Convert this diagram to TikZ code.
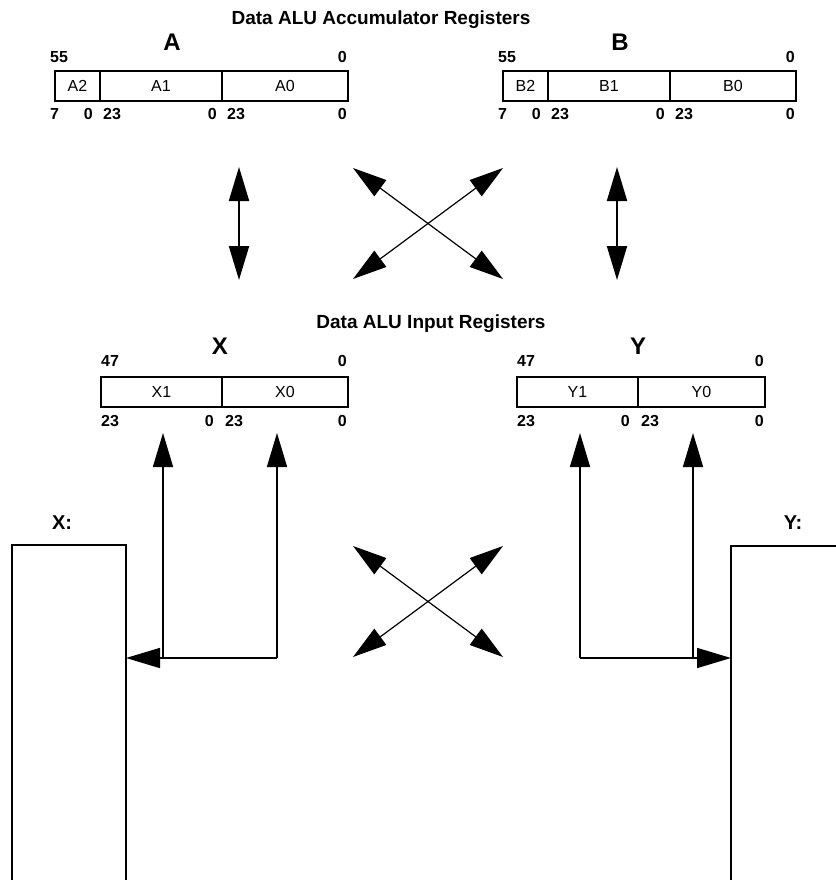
\documentclass[tikz,border=0pt]{standalone}
\usepackage{fontspec}
\setmainfont{Liberation Sans}
\usetikzlibrary{positioning, calc, arrows.meta}

\begin{document}
\begin{tikzpicture}[
        x=1pt, y=-1pt,
        % --- Style Definitions ---
        cell/.style={rectangle, draw=black, line width=1.8pt, minimum height=30pt, inner sep=0pt, outer sep=0pt, font=\fontsize{16}{16}\selectfont},
        bitnum/.style={inner sep=0pt, font=\bfseries\fontsize{16}{16}\selectfont},
        regname/.style={inner sep=0pt, font=\bfseries\fontsize{24}{24}\selectfont},
        heading/.style={inner sep=0pt, font=\bfseries\fontsize{19}{19}\selectfont},
        memname/.style={inner sep=0pt, font=\bfseries\fontsize{20}{20}\selectfont},
        membox/.style={rectangle, inner sep=0pt, outer sep=0pt, minimum height=340pt},
        memline/.style={line width=2.6pt},
        conn/.style={line width=1.6pt},
        thin_conn/.style={line width=1.2pt},
        arrow/.style={-{Triangle[length=34pt, width=20pt]}},
        dbl_arrow/.style={{Triangle[length=34pt, width=20pt]}-{Triangle[length=34pt, width=20pt]}}
    ]
        \useasboundingbox (0,0) rectangle (835,880);

        % --- Headings ---
        \node[heading] (acc_title) at (381,20) {Data ALU Accumulator Registers};
        \node[heading] (in_title)  at (431,324) {Data ALU Input Registers};

        % --- Accumulator A ---
        \node[cell, minimum width=45pt, anchor=north west] (A2) at (55,71) {A2};
        \node[cell, minimum width=122pt, right=0pt of A2] (A1) {A1};
        \node[cell, minimum width=126pt, right=0pt of A1] (A0) {A0};
        \node[regname] (A_name) at ($(A2.north west)+(117,-29)$) {A};
        \node[bitnum, anchor=west] (A_top_l) at ($(A2.north west)+(-5,-14)$) {55};
        \node[bitnum, anchor=east] (A_top_r) at ($(A0.north east)+(-1,-14)$) {0};
        \node[bitnum, anchor=west] (A2_l) at ($(A2.south west)+(-5,13)$) {7};
        \node[bitnum, anchor=east] (A2_r) at ($(A2.south east)+(-7,13)$) {0};
        \node[bitnum, anchor=west] (A1_l) at ($(A1.south west)+(3,13)$) {23};
        \node[bitnum, anchor=east] (A1_r) at ($(A1.south east)+(-5,13)$) {0};
        \node[bitnum, anchor=west] (A0_l) at ($(A0.south west)+(5,13)$) {23};
        \node[bitnum, anchor=east] (A0_r) at ($(A0.south east)+(-1,13)$) {0};

        % --- Accumulator B ---
        \node[cell, minimum width=45pt, anchor=north west] (B2) at (503,71) {B2};
        \node[cell, minimum width=122pt, right=0pt of B2] (B1) {B1};
        \node[cell, minimum width=126pt, right=0pt of B1] (B0) {B0};
        \node[regname] (B_name) at ($(B2.north west)+(117,-29)$) {B};
        \node[bitnum, anchor=west] (B_top_l) at ($(B2.north west)+(-5,-14)$) {55};
        \node[bitnum, anchor=east] (B_top_r) at ($(B0.north east)+(-1,-14)$) {0};
        \node[bitnum, anchor=west] (B2_l) at ($(B2.south west)+(-5,13)$) {7};
        \node[bitnum, anchor=east] (B2_r) at ($(B2.south east)+(-7,13)$) {0};
        \node[bitnum, anchor=west] (B1_l) at ($(B1.south west)+(3,13)$) {23};
        \node[bitnum, anchor=east] (B1_r) at ($(B1.south east)+(-5,13)$) {0};
        \node[bitnum, anchor=west] (B0_l) at ($(B0.south west)+(5,13)$) {23};
        \node[bitnum, anchor=east] (B0_r) at ($(B0.south east)+(-1,13)$) {0};

        % --- Input register X ---
        \node[cell, minimum width=121pt, anchor=north west] (X1) at (101,377) {X1};
        \node[cell, minimum width=126pt, right=0pt of X1] (X0) {X0};
        \node[regname] (X_name) at ($(X1.north west)+(119,-31)$) {X};
        \node[bitnum, anchor=west] (X_top_l) at ($(X1.north west)+(0,-16)$) {47};
        \node[bitnum, anchor=east] (X_top_r) at ($(X0.north east)+(-1,-16)$) {0};
        \node[bitnum, anchor=west] (X1_l) at ($(X1.south west)+(0,14)$) {23};
        \node[bitnum, anchor=east] (X1_r) at ($(X1.south east)+(-8,14)$) {0};
        \node[bitnum, anchor=west] (X0_l) at ($(X0.south west)+(3,14)$) {23};
        \node[bitnum, anchor=east] (X0_r) at ($(X0.south east)+(-1,14)$) {0};

        % --- Input register Y ---
        \node[cell, minimum width=121pt, anchor=north west] (Y1) at (517,377) {Y1};
        \node[cell, minimum width=127pt, right=0pt of Y1] (Y0) {Y0};
        \node[regname] (Y_name) at ($(Y1.north west)+(121,-31)$) {Y};
        \node[bitnum, anchor=west] (Y_top_l) at ($(Y1.north west)+(0,-16)$) {47};
        \node[bitnum, anchor=east] (Y_top_r) at ($(Y0.north east)+(-1,-16)$) {0};
        \node[bitnum, anchor=west] (Y1_l) at ($(Y1.south west)+(0,14)$) {23};
        \node[bitnum, anchor=east] (Y1_r) at ($(Y1.south east)+(-8,14)$) {0};
        \node[bitnum, anchor=west] (Y0_l) at ($(Y0.south west)+(3,14)$) {23};
        \node[bitnum, anchor=east] (Y0_r) at ($(Y0.south east)+(-1,14)$) {0};

        % --- Memories X: and Y: (open at the bottom) ---
        \node[membox, minimum width=114pt, anchor=north west] (xmem) at (12,545) {};
        \node[membox, minimum width=130pt, anchor=north west] (ymem) at (731,546) {};
        \draw[memline] (xmem.south west) |- (xmem.north east) -- (xmem.south east);
        \draw[memline] (ymem.south west) |- (ymem.north east);
        \node[memname] (xmem_name) at (62,523) {X:};
        \node[memname] (ymem_name) at (793,523) {Y:};

        % --- Accumulator <-> input register transfers ---
        \coordinate (a_up)   at (239,167);
        \coordinate (a_down) at (239,280);
        \coordinate (b_up)   at (617,167);
        \coordinate (b_down) at (617,280);
        \draw[conn, line width=2pt, dbl_arrow] (a_up) -- (a_down);
        \draw[conn, line width=2pt, dbl_arrow] (b_up) -- (b_down);

        \coordinate (cross_nw) at (353,168);
        \coordinate (cross_ne) at (503,168);
        \coordinate (cross_sw) at (353,279);
        \coordinate (cross_se) at (503,279);
        \draw[thin_conn, dbl_arrow] (cross_nw) -- (cross_se);
        \draw[thin_conn, dbl_arrow] (cross_ne) -- (cross_sw);

        % --- X data bus ---
        \coordinate (x_bus1) at (163,658);
        \coordinate (x_bus0) at (277,658);
        \coordinate (x_tip1) at (163,433);
        \coordinate (x_tip0) at (277,433);
        \draw[conn, arrow] (x_bus1) -- (x_tip1);
        \draw[conn, arrow] (x_bus0) -- (x_tip0);
        \draw[conn, arrow] (x_bus0) -- (x_bus0 -| xmem.east);

        % --- Y data bus ---
        \coordinate (y_bus1) at (580,658);
        \coordinate (y_bus0) at (693,658);
        \coordinate (y_tip1) at (580,433);
        \coordinate (y_tip0) at (693,433);
        \draw[conn, arrow] (y_bus1) -- (y_tip1);
        \draw[conn, arrow] (y_bus0) -- (y_tip0);
        \draw[conn, arrow] (y_bus1) -- (y_bus1 -| ymem.west);

        % --- Bus crossover ---
        \coordinate (bus_nw) at (353,546);
        \coordinate (bus_ne) at (503,546);
        \coordinate (bus_sw) at (353,657);
        \coordinate (bus_se) at (503,657);
        \draw[thin_conn, dbl_arrow] (bus_nw) -- (bus_se);
        \draw[thin_conn, dbl_arrow] (bus_ne) -- (bus_sw);

    \end{tikzpicture}
\end{document}
